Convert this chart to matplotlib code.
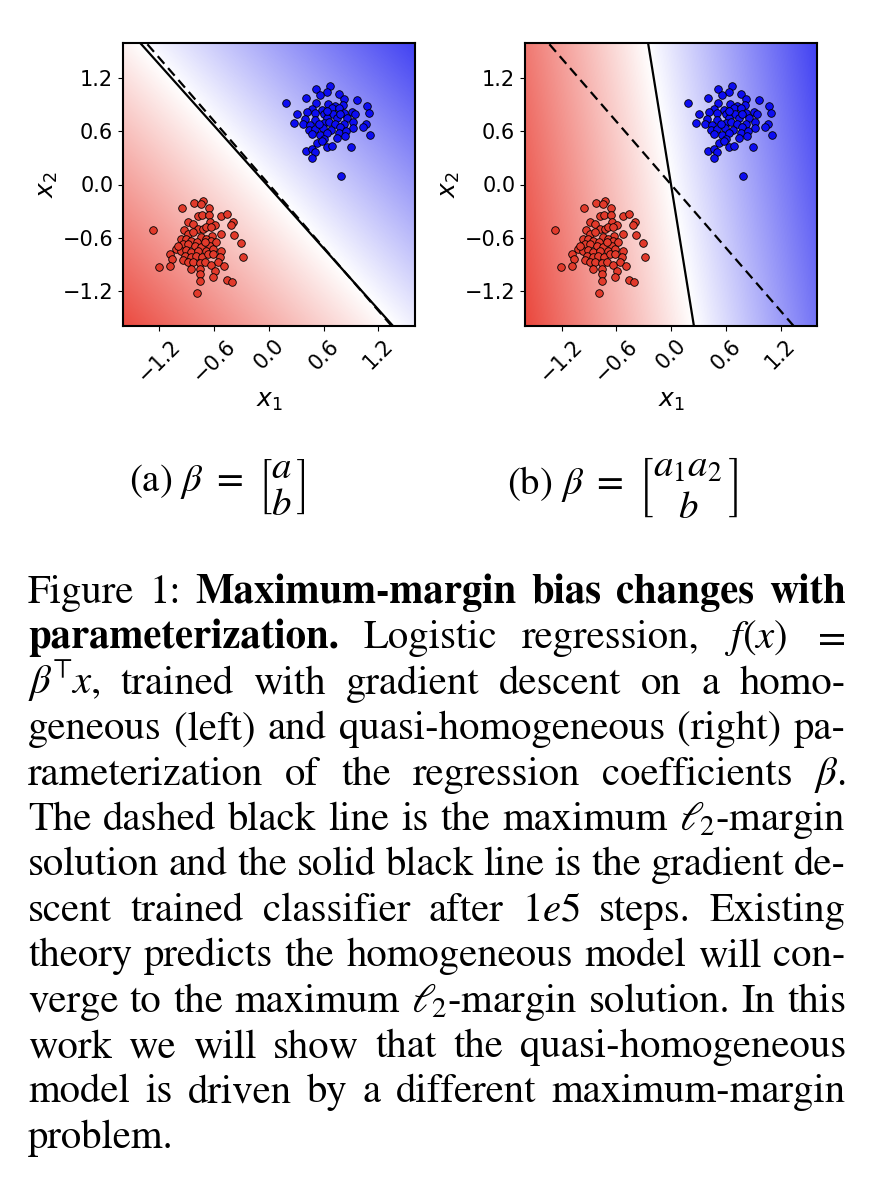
import matplotlib
matplotlib.use('Agg')
import matplotlib.pyplot as plt
import numpy as np
from matplotlib.colors import LinearSegmentedColormap, Normalize

# ---------------- data ----------------
red_x = [-0.723, -0.826, -0.742, -0.955, -0.661, -0.779, -0.735, -0.661, -0.522, -0.456,
         -0.393, -0.419, -0.889, -0.834, -0.650, -0.588, -1.267, -0.933, -0.779, -0.723,
         -0.687, -0.632, -0.889, -0.834, -0.742, -0.624, -0.522, -0.382, -0.969, -0.907,
         -0.852, -0.786, -0.687, -0.632, -0.943, -0.889, -0.808, -0.742, -0.650, -0.308,
         -1.017, -0.962, -0.907, -0.852, -0.779, -0.687, -0.613, -0.529, -1.090, -0.925,
         -0.859, -0.797, -0.735, -0.668, -0.613, -0.540, -0.283, -1.065, -0.943, -0.889,
         -0.834, -0.760, -0.705, -0.639, -0.558, -0.492, -1.208, -1.087, -0.852, -0.760,
         -0.588, -0.760, -0.613, -0.456, -0.404, -0.760, -0.793, -0.998, -0.705, -0.576]
red_y = [-0.184, -0.210, -0.222, -0.271, -0.267, -0.353, -0.346, -0.346, -0.353, -0.338,
         -0.421, -0.455, -0.429, -0.447, -0.421, -0.459, -0.515, -0.515, -0.504, -0.504,
         -0.485, -0.485, -0.560, -0.541, -0.598, -0.579, -0.560, -0.572, -0.617, -0.617,
         -0.636, -0.647, -0.617, -0.636, -0.673, -0.673, -0.692, -0.711, -0.692, -0.666,
         -0.730, -0.748, -0.737, -0.767, -0.748, -0.748, -0.730, -0.748, -0.786, -0.805,
         -0.824, -0.805, -0.824, -0.786, -0.786, -0.824, -0.824, -0.842, -0.850, -0.880,
         -0.872, -0.888, -0.872, -0.910, -0.872, -0.918, -0.929, -0.921, -0.955, -0.955,
         -0.974, -1.012, -1.042, -1.076, -1.098, -1.087, -1.226, -0.692, -0.654, -0.654]

blue_x = [0.672, 0.517, 0.635, 0.561, 0.763, 0.407, 0.818, 0.965, 0.187, 0.517,
          0.646, 0.726, 0.811, 1.075, 0.470, 0.415, 0.580, 0.690, 0.763, 0.304,
          0.506, 0.598, 0.701, 0.818, 0.910, 0.939, 1.101, 0.396, 0.506, 0.635,
          0.745, 0.855, 0.275, 0.378, 0.451, 0.598, 0.660, 0.726, 0.818, 0.921,
          1.068, 0.433, 0.506, 0.591, 0.682, 0.782, 0.921, 1.031, 0.470, 0.561,
          0.635, 0.763, 0.848, 0.598, 0.745, 1.105, 0.525, 0.580, 0.635, 0.690,
          0.899, 0.403, 0.470, 0.503, 0.470, 0.789, 0.635, 0.774, 0.543, 0.837]
blue_y = [1.114, 1.076, 1.046, 1.012, 1.027, 0.982, 0.963, 0.956, 0.926, 0.918,
          0.907, 0.888, 0.899, 0.888, 0.850, 0.824, 0.839, 0.862, 0.862, 0.794,
          0.805, 0.794, 0.801, 0.813, 0.824, 0.801, 0.813, 0.737, 0.730, 0.756,
          0.756, 0.749, 0.700, 0.681, 0.674, 0.700, 0.711, 0.681, 0.689, 0.711,
          0.689, 0.613, 0.625, 0.643, 0.613, 0.651, 0.643, 0.651, 0.568, 0.561,
          0.587, 0.587, 0.606, 0.512, 0.523, 0.561, 0.474, 0.493, 0.425, 0.436,
          0.429, 0.380, 0.399, 0.369, 0.305, 0.098, 0.832, 0.794, 0.681, 0.549]

# classifier weights (w1, w2, bias): decision boundary w1*x1 + w2*x2 + b = 0
gd_homog = [1.155, 1.0, 0.03]      # gradient-descent classifier, panel (a)
gd_quasi = [6.37, 1.0, 0.0]        # gradient-descent classifier, panel (b)
max_margin = [1.19, 1.0, 0.0]      # maximum l2-margin solution (dashed)

ticks = [-1.2, -0.6, 0.0, 0.6, 1.2]
tick_labels = ['\u22121.2', '\u22120.6', '0.0', '0.6', '1.2']
lim = 1.6

captions = [r'(a) $\beta\ =\ \left[\genfrac{}{}{0}{0}{a}{b}\right]$',
            r'(b) $\beta\ =\ \left[\genfrac{}{}{0}{0}{a_1 a_2}{b}\right]$']

# ---------------- figure ----------------
W, H = 878, 1182
fig = plt.figure(figsize=(W / 100, H / 100), dpi=100)

cmap = LinearSegmentedColormap.from_list(
    'rwb', [(0.92, 0.28, 0.24), (1, 1, 1), (0.26, 0.26, 0.95)])

def boundary_x(w, y):
    return -(w[1] * np.asarray(y) + w[2]) / w[0]

def panel(left_px, w_bg, w_solid):
    ax = fig.add_axes([left_px / W, 1 - 326 / H, 292 / W, 283 / H])
    g = np.linspace(-lim, lim, 300)
    gx, gy = np.meshgrid(g, g)
    f = w_bg[0] * gx + w_bg[1] * gy + w_bg[2]
    m = np.abs(f).max()
    ax.imshow(f, extent=[-lim, lim, -lim, lim], origin='lower', cmap=cmap,
              norm=Normalize(-m, m), aspect='auto', interpolation='bilinear')
    yy = np.array([-lim, lim])
    ax.plot(boundary_x(w_solid, yy), yy, color='black', lw=1.6)
    ax.plot(boundary_x(max_margin, yy), yy, color='black', lw=1.6, ls='--',
            dashes=(4.5, 2.6))
    ax.scatter(red_x, red_y, s=30, c='#e23a2b', edgecolors='black', linewidths=0.6, zorder=3)
    ax.scatter(blue_x, blue_y, s=30, c='#0d0df2', edgecolors='black', linewidths=0.6, zorder=3)
    ax.set_xlim(-lim, lim)
    ax.set_ylim(-lim, lim)
    ax.set_xticks(ticks)
    ax.set_xticklabels(tick_labels, rotation=45, fontsize=15)
    ax.set_yticks(ticks)
    ax.set_yticklabels(tick_labels, fontsize=15)
    ax.set_xlabel('$x_1$', fontsize=18, labelpad=2)
    ax.set_ylabel('$x_2$', fontsize=18, labelpad=2)
    for s in ax.spines.values():
        s.set_linewidth(1.5)
    return ax

panel(123, gd_homog, gd_homog)
panel(525, gd_quasi, gd_quasi)

cap_kw = dict(fontsize=28, family='STIXGeneral', math_fontfamily='stix',
              ha='center', va='center')
fig.text(217 / W, 1 - 487 / H, captions[0], **cap_kw)
fig.text(623 / W, 1 - 487 / H, captions[1], **cap_kw)

# ---------------- justified paragraph ----------------
B = True
N = False
lines = [
    [('Figure', N), ('1:', N), ('Maximum-margin', B), ('bias', B), ('changes', B), ('with', B)],
    [('parameterization.', B), ('Logistic', N), ('regression,', N), ('$f(x)$', N), ('$=$', N)],
    [(r'$\beta^{\!\!\top}\!x$,', N), ('trained', N), ('with', N), ('gradient', N), ('descent', N),
     ('on', N), ('a', N), ('homo-', N)],
    [('geneous', N), ('(left)', N), ('and', N), ('quasi-homogeneous', N), ('(right)', N), ('pa-', N)],
    [('rameterization', N), ('of', N), ('the', N), ('regression', N), ('coefficients', N), (r'$\beta$.', N)],
    [('The', N), ('dashed', N), ('black', N), ('line', N), ('is', N), ('the', N), ('maximum', N),
     (r'$\ell_{\!2}$-margin', N)],
    [('solution', N), ('and', N), ('the', N), ('solid', N), ('black', N), ('line', N), ('is', N),
     ('the', N), ('gradient', N), ('de-', N)],
    [('scent', N), ('trained', N), ('classifier', N), ('after', N), ('$1e5$', N), ('steps.', N),
     ('Existing', N)],
    [('theory', N), ('predicts', N), ('the', N), ('homogeneous', N), ('model', N), ('will', N), ('con-', N)],
    [('verge', N), ('to', N), ('the', N), ('maximum', N), (r'$\ell_{\!2}$-margin', N), ('solution.', N),
     ('In', N), ('this', N)],
    [('work', N), ('we', N), ('will', N), ('show', N), ('that', N), ('the', N), ('quasi-homogeneous', N)],
    [('model', N), ('is', N), ('driven', N), ('by', N), ('a', N), ('different', N), ('maximum-margin', N)],
    [('problem.', N)],
]

FS = 29.3
x_left, x_right = 28, 846
base0, step = 603, 45.4
renderer = fig.canvas.get_renderer()
for i, toks in enumerate(lines):
    yb = base0 + i * step
    texts = []
    for s, bold in toks:
        t = fig.text(0, 1 - yb / H, s, fontsize=FS, family='STIXGeneral',
                     math_fontfamily='stix', fontweight='bold' if bold else 'normal',
                     ha='left', va='baseline')
        texts.append(t)
    widths = [t.get_window_extent(renderer).width for t in texts]
    if i == len(lines) - 1 or len(texts) == 1:
        gap = 0.25 * FS * 100 / 72
    else:
        gap = (x_right - x_left - sum(widths)) / (len(texts) - 1)
    x = x_left
    for t, wdt in zip(texts, widths):
        t.set_x(x / W)
        x += wdt + gap

fig.savefig('out.png', dpi=100)
